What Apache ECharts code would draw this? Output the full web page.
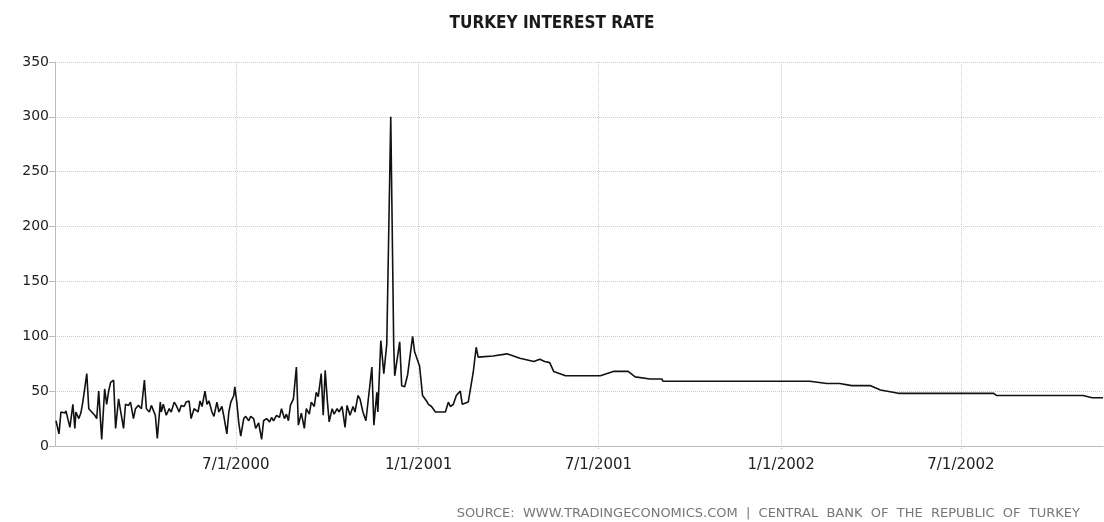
<!DOCTYPE html>
<html>
<head>
    <meta charset="utf-8">
    <title>Turkey Interest Rate</title>
    <script src="https://cdn.jsdelivr.net/npm/echarts@6/dist/echarts.min.js"></script>
    <style>
        html, body { margin: 0; padding: 0; background: #fff; }
        #chart { width: 1104px; height: 522px; }
    </style>
</head>
<body>
    <div id="chart"></div>

    <script>
        // 数据：日期 + 利率 (%)
        const dates = [
            '2000-01-02', '2000-01-05', '2000-01-07', '2000-01-11', '2000-01-12', '2000-01-16', '2000-01-19', '2000-01-21',
            '2000-01-22', '2000-01-25', '2000-01-27', '2000-01-29', '2000-02-02', '2000-02-04', '2000-02-07', '2000-02-10',
            '2000-02-12', '2000-02-14', '2000-02-17', '2000-02-20', '2000-02-22', '2000-02-24', '2000-02-26', '2000-02-29',
            '2000-03-02', '2000-03-05', '2000-03-10', '2000-03-12', '2000-03-15', '2000-03-17', '2000-03-20', '2000-03-22',
            '2000-03-25', '2000-03-28', '2000-03-31', '2000-04-02', '2000-04-05', '2000-04-07', '2000-04-11', '2000-04-13',
            '2000-04-16', '2000-04-17', '2000-04-19', '2000-04-22', '2000-04-25', '2000-04-27', '2000-04-30', '2000-05-02',
            '2000-05-05', '2000-05-07', '2000-05-10', '2000-05-12', '2000-05-15', '2000-05-17', '2000-05-20', '2000-05-22',
            '2000-05-24', '2000-05-26', '2000-05-28', '2000-05-31', '2000-06-02', '2000-06-04', '2000-06-07', '2000-06-09',
            '2000-06-12', '2000-06-14', '2000-06-17', '2000-06-19', '2000-06-22', '2000-06-24', '2000-06-26', '2000-06-29',
            '2000-06-30', '2000-07-02', '2000-07-04', '2000-07-06', '2000-07-09', '2000-07-11', '2000-07-14', '2000-07-16',
            '2000-07-19', '2000-07-21', '2000-07-24', '2000-07-27', '2000-07-29', '2000-08-01', '2000-08-04', '2000-08-06',
            '2000-08-08', '2000-08-11', '2000-08-14', '2000-08-16', '2000-08-19', '2000-08-21', '2000-08-23', '2000-08-25',
            '2000-08-28', '2000-08-31', '2000-09-02', '2000-09-05', '2000-09-08', '2000-09-10', '2000-09-13', '2000-09-15',
            '2000-09-18', '2000-09-20', '2000-09-22', '2000-09-25', '2000-09-27', '2000-09-29', '2000-10-01', '2000-10-03',
            '2000-10-06', '2000-10-08', '2000-10-11', '2000-10-13', '2000-10-16', '2000-10-19', '2000-10-21', '2000-10-24',
            '2000-10-27', '2000-10-29', '2000-11-01', '2000-11-03', '2000-11-06', '2000-11-09', '2000-11-15', '2000-11-17',
            '2000-11-20', '2000-11-21', '2000-11-24', '2000-11-27', '2000-11-30', '2000-12-04', '2000-12-07', '2000-12-08',
            '2000-12-13', '2000-12-15', '2000-12-18', '2000-12-21', '2000-12-26', '2000-12-28',
            '2001-01-02', '2001-01-05', '2001-01-09', '2001-01-11', '2001-01-14', '2001-01-18', '2001-01-21', '2001-01-23',
            '2001-01-28', '2001-01-31', '2001-02-02', '2001-02-05', '2001-02-08', '2001-02-12', '2001-02-14', '2001-02-20',
            '2001-02-25', '2001-02-28', '2001-03-02', '2001-03-17', '2001-03-31', '2001-04-13', '2001-04-27', '2001-05-03',
            '2001-05-08', '2001-05-13', '2001-05-17', '2001-05-29', '2001-07-03', '2001-07-16', '2001-07-31', '2001-08-07',
            '2001-08-22', '2001-09-03', '2001-09-04', '2002-01-30', '2002-02-16', '2002-03-01', '2002-03-13', '2002-04-01',
            '2002-04-11', '2002-04-29', '2002-08-03', '2002-08-06', '2002-11-01', '2002-11-10', '2002-11-21'
        ];
        const rates = [
            23, 11, 31, 30, 32, 17, 38, 16,
            31, 25, 30, 40, 66, 34, 31, 28,
            25, 50, 6, 52, 38, 50, 58, 60,
            16, 43, 16, 38, 37, 40, 25, 34,
            37, 34, 60, 34, 31, 37, 28, 7,
            40, 31, 38, 28, 34, 31, 40, 37,
            31, 37, 36, 40, 41, 25, 34, 35,
            31, 41, 36, 50, 38, 41, 31, 27,
            40, 31, 36, 27, 11, 31, 40, 46,
            54, 40, 21, 9, 25, 27, 23, 27,
            25, 16, 21, 6, 23, 25, 22, 26,
            23, 28, 26, 34, 25, 29, 23, 37,
            43, 72, 19, 30, 16, 34, 29, 40,
            36, 49, 45, 66, 28, 69, 43, 22,
            34, 29, 34, 31, 36, 17, 37, 28,
            36, 31, 46, 43, 31, 23, 72, 19,
            49, 31, 96, 66, 93, 300, 91, 64,
            95, 55, 54, 65, 100, 86,
            73, 46, 41, 38, 36, 31, 31, 32,
            31, 40, 36, 38, 46, 50, 38, 40,
            67, 90, 81, 82, 84, 80, 77, 79,
            77, 76, 68, 64, 64, 68, 68, 63,
            61, 61, 59, 59, 57, 57, 55, 55,
            51, 48, 48, 46, 46, 44, 44
        ];

        // 坐标轴
        const xMin = '2000-01-01';
        const xMax = '2002-11-21';
        const xTicks = ['2000-07-01', '2001-01-01', '2001-07-01', '2002-01-01', '2002-07-01'];
        const yTicks = [0, 50, 100, 150, 200, 250, 300, 350];

        function toTime(s) {
            const p = s.split('-');
            return new Date(+p[0], +p[1] - 1, +p[2]).getTime();
        }

        const chart = echarts.init(document.getElementById('chart'));
        const axisFont = "'DejaVu Sans', Verdana, sans-serif";
        const xTickTimes = xTicks.map(toTime);

        chart.setOption({
            animation: false,
            title: {
                text: 'TURKEY INTEREST RATE',
                left: 'center',
                top: 10,
                textStyle: {
                    fontFamily: "'DejaVu Sans Condensed', 'DejaVu Sans', sans-serif",
                    fontSize: 17,
                    fontWeight: 'bold',
                    color: '#1a1a1a'
                }
            },
            graphic: [{
                type: 'text',
                right: 24,
                top: 507,
                style: {
                    text: 'SOURCE:  WWW.TRADINGECONOMICS.COM  |  CENTRAL  BANK  OF  THE  REPUBLIC  OF  TURKEY',
                    font: "13px 'DejaVu Sans', sans-serif",
                    fill: '#777'
                }
            }],
            grid: { left: 55, right: 1, top: 62, bottom: 76 },
            xAxis: {
                type: 'value',
                min: toTime(xMin),
                max: toTime(xMax),
                axisLine: { lineStyle: { color: '#bbb', width: 1 } },
                axisTick: {
                    show: true,
                    length: 4,
                    customValues: xTickTimes,
                    lineStyle: { color: '#bbb', type: 'dotted' }
                },
                axisLabel: {
                    customValues: xTickTimes,
                    margin: 12,
                    fontFamily: axisFont,
                    fontSize: 15,
                    color: '#222',
                    formatter: function (v) {
                        const d = new Date(v);
                        return (d.getMonth() + 1) + '/' + d.getDate() + '/' + d.getFullYear();
                    }
                },
                splitLine: { show: true, lineStyle: { color: '#ccc', type: 'dotted' } }
            },
            yAxis: {
                type: 'value',
                min: yTicks[0],
                max: yTicks[yTicks.length - 1],
                interval: 50,
                axisLine: { show: true, lineStyle: { color: '#bbb', width: 1 } },
                axisTick: { show: true, length: 6, lineStyle: { color: '#bbb' } },
                axisLabel: {
                    margin: 6,
                    fontFamily: axisFont,
                    fontSize: 14,
                    color: '#222'
                },
                splitLine: { show: true, lineStyle: { color: '#ccc', type: 'dotted' } }
            },
            series: [{
                type: 'line',
                showSymbol: false,
                data: dates.map((d, i) => [toTime(d), rates[i]]),
                lineStyle: { color: '#111', width: 1.6 }
            }]
        });
    </script>
</body>
</html>
